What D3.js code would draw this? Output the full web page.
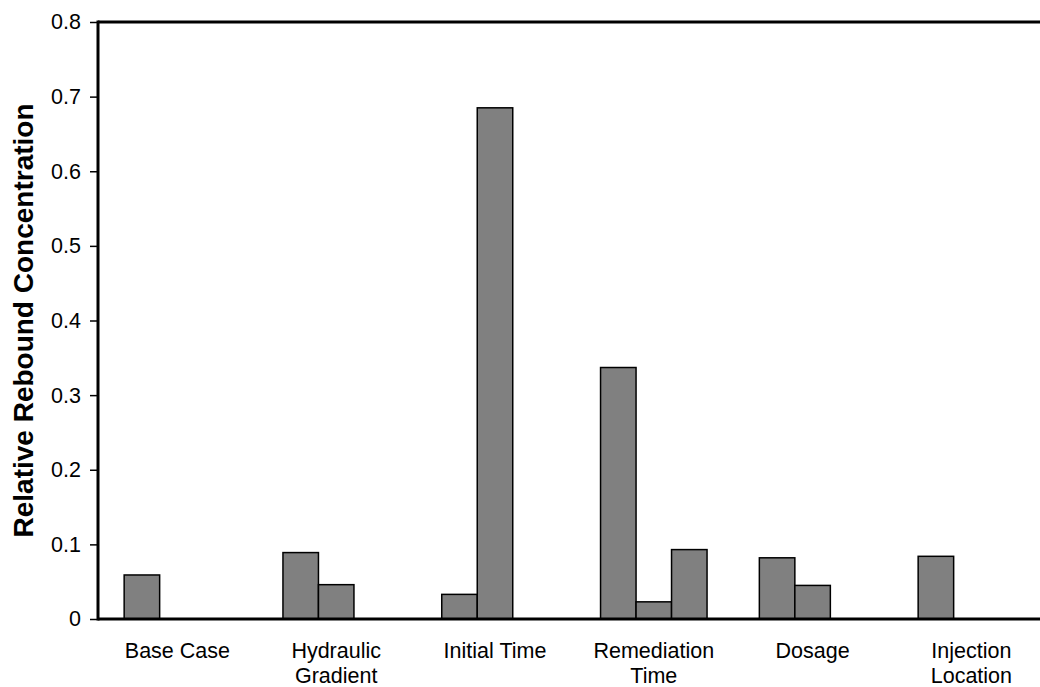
<!DOCTYPE html>
<html>
<head>
<meta charset="utf-8">
<script src="https://cdn.jsdelivr.net/npm/d3@7"></script>
<style>
  html, body { margin: 0; padding: 0; background: #fff; }
  svg text { font-family: "Liberation Sans", Arial, sans-serif; fill: #000; }
</style>
</head>
<body>
<svg id="chart" width="1040" height="687"></svg>
<script>
const categories = [["Base Case"], ["Hydraulic", "Gradient"], ["Initial Time"], ["Remediation", "Time"], ["Dosage"], ["Injection", "Location"]];
const categoryKeys = ["Base Case", "Hydraulic Gradient", "Initial Time", "Remediation Time", "Dosage", "Injection Location"];
const series1 = [0.059, 0.089, 0.033, 0.337, 0.082, 0.084];
const series2 = [null, 0.046, 0.685, 0.023, 0.045, null];
const series3 = [null, null, null, 0.093, null, null];
const yTicks = [0, 0.1, 0.2, 0.3, 0.4, 0.5, 0.6, 0.7, 0.8];
const yTitle = "Relative Rebound Concentration";

(function () {
const svg = d3.select("#chart");
const mLeft = 98, mTop = 22, mBottom = 619, mRight = 1040;
const step = 158.8;

const x = d3.scaleBand().domain(categoryKeys)
  .range([mLeft, mLeft + step * categoryKeys.length])
  .paddingInner(0.3294).paddingOuter(0.1647);
const xs = d3.scaleBand().domain([0, 1, 2]).range([0, x.bandwidth()]);
const y = d3.scaleLinear().domain([0, 0.8]).range([mBottom, mTop]);

const seriesAll = [series1, series2, series3];
const bars = [];
categoryKeys.forEach((c, i) => {
  seriesAll.forEach((s, j) => {
    if (s[i] != null) bars.push({ c, j, v: s[i] });
  });
});

svg.append("g").selectAll("rect").data(bars).join("rect")
  .attr("x", d => x(d.c) + xs(d.j))
  .attr("y", d => y(d.v))
  .attr("width", xs.bandwidth())
  .attr("height", d => y(0) - y(d.v))
  .attr("fill", "#808080")
  .attr("stroke", "#000")
  .attr("stroke-width", 1.5);

// y axis
const yAxis = d3.axisLeft(y).tickValues(yTicks)
  .tickFormat(d => d === 0 ? "0" : d3.format(".1f")(d))
  .tickSize(8).tickPadding(9);
const gy = svg.append("g").attr("transform", `translate(${mLeft},0)`).call(yAxis);
gy.select(".domain").remove();
gy.selectAll(".tick line").attr("stroke", "#000").attr("stroke-width", 1.5);
gy.selectAll(".tick text").style("font-size", "21.5px").attr("fill", "#000");

// frame lines
svg.append("line").attr("x1", mLeft).attr("x2", mLeft).attr("y1", mTop - 1.5).attr("y2", mBottom + 1.5)
  .attr("stroke", "#000").attr("stroke-width", 3);
svg.append("line").attr("x1", mLeft).attr("x2", mRight).attr("y1", mTop).attr("y2", mTop)
  .attr("stroke", "#000").attr("stroke-width", 3);
svg.append("line").attr("x1", mLeft).attr("x2", mRight).attr("y1", mBottom).attr("y2", mBottom)
  .attr("stroke", "#000").attr("stroke-width", 3);

// x labels
const gx = svg.append("g");
categoryKeys.forEach((c, i) => {
  const cx = x(c) + x.bandwidth() / 2;
  const t = gx.append("text")
    .attr("x", cx)
    .attr("y", 658)
    .attr("text-anchor", "middle")
    .style("font-size", "21.5px");
  categories[i].forEach((line, k) => {
    t.append("tspan").attr("x", cx).attr("dy", k === 0 ? 0 : 25).text(line);
  });
});

// y title
svg.append("text")
  .attr("transform", `translate(33,${(mTop + mBottom) / 2}) rotate(-90)`)
  .attr("text-anchor", "middle")
  .style("font-size", "28px")
  .style("font-weight", "bold")
  .text(yTitle);
})();
</script>
</body>
</html>
